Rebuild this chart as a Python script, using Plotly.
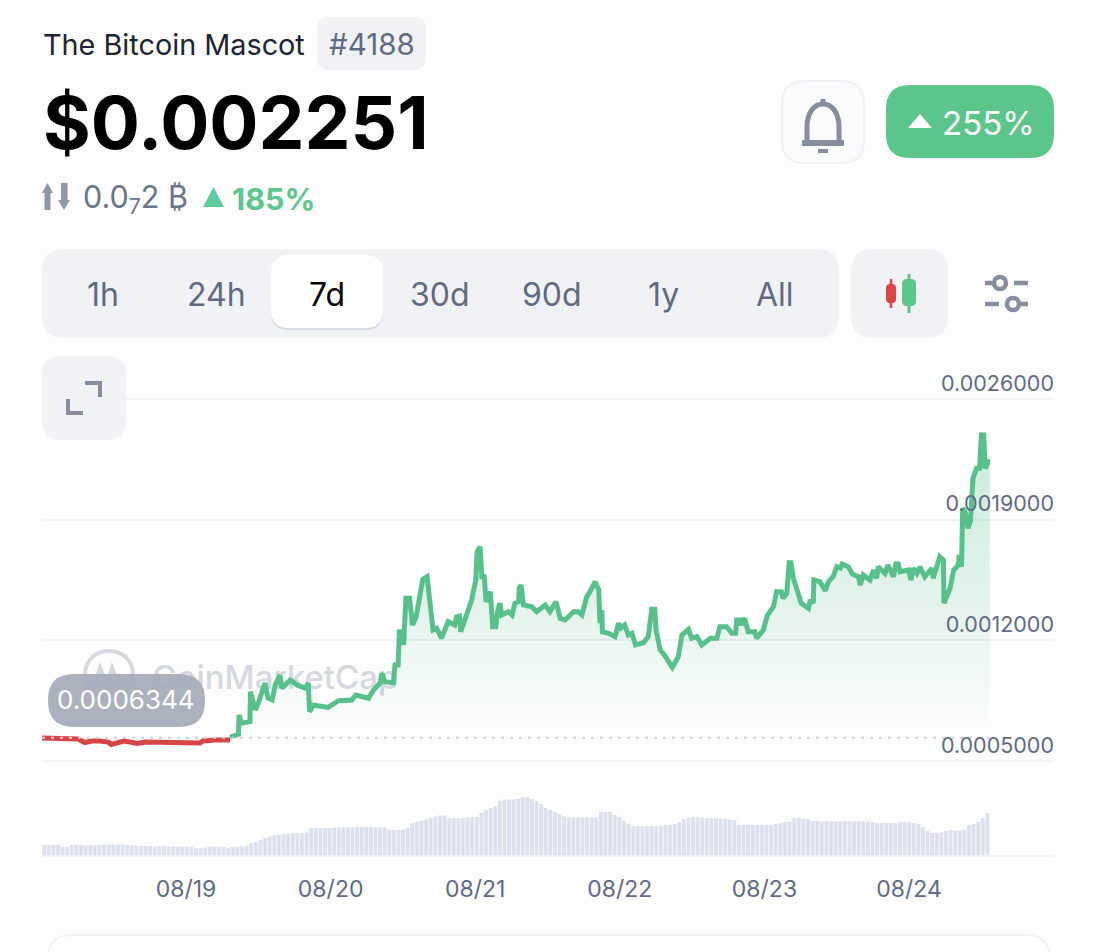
import re
import plotly.graph_objects as go

# ---------- data (price in millionths of a dollar, time in hours since 08/18 00:00) ----------
RED_HOURS = [0.1,1.8,3.4,5.1,6.1,7.2,8.4,9.7,11.1,11.6,12.4,13.7,14.7,15.9,17.2,18.9,21.3,23.8,26.3,26.8,28.8,31.3]
RED_PRICE = [633,631,631,633,628,607,616,616,610,596,604,616,610,602,610,610,607,604,604,616,622,622]

GREEN_HOURS = [31.3,32.7,32.8,33.2,34.6,34.7,35.5,36.0,37.1,37.6,38.3,38.8,39.6,39.9,41.3,42.4,43.8,44.3,44.5,45.1,
 47.6,49.3,51.5,52.2,54.3,55.1,56.2,56.5,57.0,58.4,58.7,59.2,59.4,59.8,60.1,60.5,61.1,61.6,62.2,63.3,
 64.0,64.6,65.0,65.6,66.4,67.5,68.6,68.9,69.4,69.6,70.6,71.4,72.1,72.3,72.8,73.1,73.5,73.8,74.5,74.9,
 75.4,75.7,76.1,76.4,77.5,78.1,78.6,79.2,79.3,79.6,80.0,81.4,82.2,83.6,84.4,85.4,86.1,86.9,88.3,89.1,
 89.7,90.5,90.9,91.9,92.5,92.7,93.0,93.1,94.1,95.2,95.8,96.2,96.8,97.4,98.0,98.6,99.9,100.7,101.3,101.8,
 102.0,102.7,103.5,104.7,105.7,106.3,107.4,107.9,108.8,109.6,111.0,112.1,112.6,113.7,114.6,115.2,115.4,115.9,116.1,116.7,
 117.3,118.4,118.7,119.8,120.5,121.1,121.5,122.0,122.8,123.1,123.7,124.1,124.4,124.8,125.6,126.1,127.3,127.6,128.1,128.2,
 129.2,130.1,130.6,131.4,132.0,132.6,132.9,133.9,134.6,135.6,135.9,136.4,137.5,138.1,138.6,138.9,140.0,140.5,141.4,141.8,
 142.2,142.5,143.9,144.3,144.7,145.3,145.8,146.6,147.8,148.0,149.1,149.7,149.8,150.8,151.4,152.2,152.3,152.7,152.9,153.3,
 153.8,154.2,154.6,155.2,155.7,156.0,156.4,156.6,157.2,157.4]
GREEN_PRICE = [639,655,767,719,728,902,796,836,952,865,854,941,999,923,970,941,923,952,786,825,
 811,850,854,883,864,912,951,1010,960,954,1057,1057,1250,1250,1173,1444,1444,1289,1337,1554,
 1569,1405,1260,1270,1212,1308,1289,1337,1341,1250,1347,1434,1550,1714,1743,1569,1569,1424,1482,1279,
 1279,1366,1416,1347,1366,1347,1416,1424,1502,1521,1405,1395,1366,1405,1366,1424,1328,1318,1366,1366,
 1347,1453,1473,1540,1492,1299,1376,1250,1241,1221,1299,1271,1289,1231,1241,1173,1186,1221,1380,1380,
 1260,1144,1109,1043,1105,1231,1264,1212,1221,1173,1212,1212,1279,1279,1241,1241,1318,1318,1289,1328,
 1250,1250,1212,1260,1347,1376,1395,1482,1482,1444,1473,1650,1650,1560,1482,1415,1386,1434,1416,1550,
 1540,1488,1540,1569,1627,1619,1643,1627,1585,1569,1521,1579,1550,1608,1560,1627,1588,1637,1569,1643,
 1643,1598,1608,1550,1618,1589,1627,1569,1618,1560,1685,1666,1415,1502,1608,1637,1695,1627,1966,1946,
 1850,1898,2140,2198,2198,2391,2391,2198,2236,2234]

OPEN_PRICE = 634.4
OPEN_LABEL = "0.0006344"

VOLUME = [10,10,10,10,8,8,10,10,10,9.5,10,9.5,10,10.5,10.5,10.5,10.5,10.5,10,9.5,
 9,9,9,9,8.5,9,9,8.5,8.5,8.5,8.5,8.5,8,7,7,7.5,8.5,8.5,8.5,8,
 7,8,8.5,9,9.5,12,13,15,17,18.5,19.5,20,21,21,21.5,22,22,22.5,27,27,
 27,27,27,27.5,27.5,27.5,27.5,27.5,28,28,28,28,27.5,27.5,27.5,25,25,25,25.5,27,
 32,33,34,35.5,37,38.5,39.5,39.5,37,37,37,37,37.5,38,38,42,45,47,49,54,
 55.5,55.5,55.5,56,57.5,57.5,56,54,51,47,45,43,41,38.5,37.5,37.5,37.5,37.5,38,37.5,
 37.5,43,43,43,40,38,34,31,29,29,29,29,29,29,29,30,30,31,33,36,
 37,38,38,37.5,37,37,37,36.5,36,35.5,35,30,30,30,30,30,30,30,30,31,
 32,33,33,37,37.5,36.5,36,34,34,33.5,33.5,33.5,33.5,33.5,33.5,33.5,33.5,33.5,33.5,33.5,
 33,32,32,32,32,32,33,33,33,32,31,28,24,22,22,22.5,24,25,24.5,24.5,
 25,30,31,33,37,42]
BAR_START_HOUR = 0.48
BAR_STEP_HOURS = 0.7635

X_TICK_HOURS = [24, 48, 72, 96, 120, 144]
X_TICK_LABELS = ["08/19", "08/20", "08/21", "08/22", "08/23", "08/24"]
Y_TICKS = [500, 1200, 1900, 2600]
Y_TICK_LABELS = ["0.0005000", "0.0012000", "0.0019000", "0.0026000"]
RANGE_BUTTONS = ["1h", "24h", "7d", "30d", "90d", "1y", "All"]
RANGE_CENTERS = [103, 216, 327, 440, 552, 663, 775]

# ---------- styling ----------
W, H = 1096, 952
FONT = "Inter"
BG = "#FDFDFE"
GREEN = "#58C08A"
RED = "#D64545"
SLATE = "#5F6B82"
ICON = "#868D9F"
CHIP = "#F1F2F5"
GRID = "#F0F2F5"


def px(x):
    return x / W


def py(y):
    return 1 - y / H


def to_paper(d):
    """Convert an SVG path written in page pixels into paper fractions."""
    out, is_x = [], True
    for tok in re.findall(r"[A-Za-z]|-?\d+\.?\d*", d):
        if tok.isalpha():
            out.append(tok)
            is_x = True
        else:
            v = float(tok)
            out.append(f"{(px(v) if is_x else py(v)):.5f}")
            is_x = not is_x
    return " ".join(out)


def rrect(x0, y0, x1, y1, r):
    return (f"M {x0+r} {y0} L {x1-r} {y0} Q {x1} {y0} {x1} {y0+r} L {x1} {y1-r} Q {x1} {y1} {x1-r} {y1} "
            f"L {x0+r} {y1} Q {x0} {y1} {x0} {y1-r} L {x0} {y0+r} Q {x0} {y0} {x0+r} {y0} Z")


shapes = []


def add(d, fill=None, stroke=None, width=0, layer="above"):
    shapes.append(dict(type="path", xref="paper", yref="paper", path=to_paper(d), layer=layer,
                       fillcolor=fill or "rgba(0,0,0,0)",
                       line=dict(color=stroke or "rgba(0,0,0,0)", width=width)))


annotations = []


def label(x, y, text, size, color, anchor="center", weight=400):
    annotations.append(dict(xref="paper", yref="paper", x=px(x), y=py(y), text=text, showarrow=False,
                            xanchor=anchor, yanchor="middle", borderpad=0,
                            font=dict(family=FONT, size=size, color=color, weight=weight)))


fig = go.Figure()

# watermark, under the price line
fig.add_trace(go.Scatter(x=[18.4], y=[964], mode="text", text=["CoinMarketCap"], textposition="middle right",
                         textfont=dict(family=FONT, size=33, color="#D5D8E1", weight=500),
                         yaxis="y", hoverinfo="skip", showlegend=False))
add("M 85 675 C 85 643 133 643 133 675 C 133 707 85 707 85 675 Z", stroke="#D5D8E1", width=4, layer="below")
add("M 94 689 L 100 668 L 107 684 L 112 668 L 118 684 L 125 676", stroke="#D5D8E1", width=4, layer="below")

# volume
fig.add_trace(go.Bar(x=[BAR_START_HOUR + i * BAR_STEP_HOURS for i in range(len(VOLUME))], y=VOLUME,
                     width=BAR_STEP_HOURS * 0.84, marker=dict(color="#DDE1EE", line=dict(width=0)),
                     yaxis="y2", hoverinfo="skip", showlegend=False))

# price
fig.add_trace(go.Scatter(x=[GREEN_HOURS[0], GREEN_HOURS[-1]], y=[OPEN_PRICE, OPEN_PRICE], mode="lines",
                         line=dict(width=0), yaxis="y", hoverinfo="skip", showlegend=False))
fig.add_trace(go.Scatter(x=GREEN_HOURS, y=GREEN_PRICE, mode="lines", yaxis="y", fill="tonexty",
                         fillgradient=dict(type="vertical", start=OPEN_PRICE, stop=2400,
                                           colorscale=[[0, "rgba(88,192,138,0.0)"], [0.45, "rgba(88,192,138,0.16)"],
                                                       [1, "rgba(88,192,138,0.30)"]]),
                         line=dict(color=GREEN, width=5), hoverinfo="skip", showlegend=False))
fig.add_trace(go.Scatter(x=RED_HOURS, y=RED_PRICE, mode="lines", yaxis="y",
                         line=dict(color=RED, width=5), hoverinfo="skip", showlegend=False))
fig.add_trace(go.Scatter(x=[RED_HOURS[0], GREEN_HOURS[-1]], y=[OPEN_PRICE, OPEN_PRICE], mode="lines", yaxis="y",
                         line=dict(color="#CDD1DA", width=2, dash="3px,6px"), hoverinfo="skip", showlegend=False))

# opening-price pill
add(rrect(48, 674, 205, 727, 26), fill="rgba(168,173,186,0.95)")
label(126, 699, OPEN_LABEL, 26, "#FFFFFF")

# header
label(42, 44, "The Bitcoin Mascot", 28.8, "#1E2430", "left")
add(rrect(317, 17, 426, 70, 12), fill=CHIP)
label(371.5, 44, "#4188", 29.5, SLATE)
label(42, 123, "$0.002251", 73, "#000000", "left", 700)
add("M 47.5 183 L 53 193 L 50.5 193 L 50.5 210 L 44.5 210 L 44.5 193 L 42 193 Z", fill="#8F97A8")
add("M 64 210 L 70 200 L 67.5 200 L 67.5 183 L 61 183 L 61 200 L 58 200 Z", fill="#8F97A8")
label(82, 198, "0.0<sub>7</sub>2 ₿", 30.5, "#6B7589", "left")
add("M 213.5 187 L 224 207 L 203 207 Z", fill="#5CCB9E")
label(231, 198, "185%", 30.5, "#5CC68D", "left", 700)

# bell button
add(rrect(782, 81, 864, 163, 23), fill="#FAFBFD", stroke="#F0F1F4", width=2)
add("M 807 141 L 807 127 C 807 113 814 104 823 104 C 832 104 839 113 839 127 L 839 141",
    stroke=ICON, width=5)
add("M 802 143 L 844 143", stroke=ICON, width=6)
add("M 823 99 L 823 104", stroke=ICON, width=5)
add("M 818 151 L 828 151", stroke=ICON, width=4)

# change badge
add(rrect(886, 85, 1054, 158, 24), fill="#5BC58C")
add("M 920 114 L 932 128 L 908 128 Z", fill="#FFFFFF")
label(988, 123, "255%", 33, "#FFFFFF")

# range buttons
add(rrect(42, 249, 839, 338, 22), fill=CHIP)
add(rrect(271, 256, 383, 330, 18), fill="#D6DAE4")
add(rrect(271, 255, 383, 328, 18), fill="#FFFFFF")
for name, cx in zip(RANGE_BUTTONS, RANGE_CENTERS):
    label(cx, 294, name, 32, "#000000" if name == "7d" else SLATE)

# candle toggle
add(rrect(851, 249, 948, 338, 22), fill=CHIP)
add(rrect(886, 284, 896, 303, 4), fill="#DB4545")
add("M 891 279 L 891 308", stroke="#DB4545", width=2.5)
add(rrect(902, 279, 916, 306, 5), fill="#5BC58C")
add("M 909 274 L 909 313", stroke="#5BC58C", width=3)

# settings icon
add("M 985 283 L 992 283 M 1014 283 L 1028 283 M 985 304 L 999 304 M 1020 304 L 1028 304", stroke=ICON, width=4.5)
add("M 994 283 C 994 275 1006 275 1006 283 C 1006 291 994 291 994 283 Z", stroke=ICON, width=4.5)
add("M 1007 304 C 1007 296 1019 296 1019 304 C 1019 312 1007 312 1007 304 Z", stroke=ICON, width=4.5)

# expand button
add(rrect(42, 356, 126, 440, 20), fill=CHIP)
add("M 85 383 L 100 383 L 100 397 M 68 399 L 68 413 L 83 413", stroke=ICON, width=4)

# bottom card edge
add(rrect(48, 935, 1050, 1000, 24), fill="#FFFFFF", stroke="#F0F1F4", width=2)

PLOT_LEFT, PLOT_RIGHT = 42, 1054
fig.update_layout(
    width=W, height=H, margin=dict(l=0, r=0, t=0, b=0), autosize=False,
    paper_bgcolor=BG, plot_bgcolor="rgba(0,0,0,0)", showlegend=False,
    font=dict(family=FONT, color=SLATE), bargap=0.1,
    shapes=shapes, annotations=annotations,
    xaxis=dict(domain=[px(PLOT_LEFT), px(PLOT_RIGHT)], range=[0.1, 168.05], anchor="y2",
               tickmode="array", tickvals=X_TICK_HOURS, ticktext=X_TICK_LABELS,
               showgrid=False, zeroline=False, showline=True, linecolor=GRID, linewidth=2,
               ticks="", ticklabelstandoff=12, tickfont=dict(family=FONT, size=23, color=SLATE)),
    yaxis=dict(domain=[py(780), py(355)], range=[389.8, 2855.2], anchor="x", side="right",
               tickmode="array", tickvals=Y_TICKS, ticktext=Y_TICK_LABELS,
               ticklabelposition="inside", ticklabelshift=-16, ticklabelstandoff=-3, ticks="",
               showgrid=True, gridcolor=GRID, gridwidth=2, zeroline=False, showline=False,
               tickfont=dict(family=FONT, size=21.5, color=SLATE)),
    yaxis2=dict(domain=[py(855), py(795)], range=[0, 60], anchor="x", showticklabels=False,
                showgrid=False, zeroline=False, showline=False, ticks=""),
)

fig.write_html("out.html", config=dict(displayModeBar=False),
               post_script="document.body.style.margin='0';document.body.style.overflow='hidden';document.body.style.background='" + BG + "';")
